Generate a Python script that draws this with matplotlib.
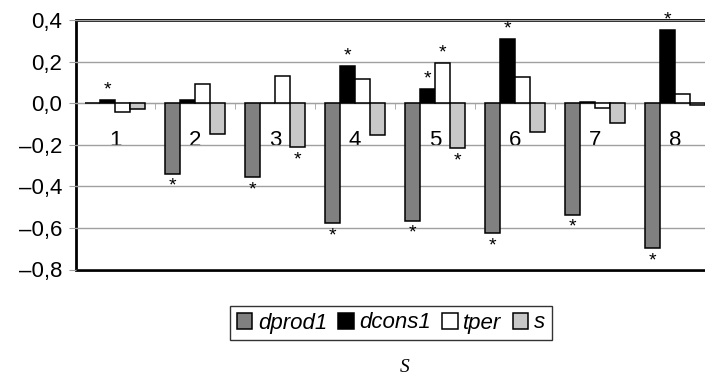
import matplotlib

matplotlib.use("Agg")
import matplotlib.pyplot as plt
import numpy as np
from matplotlib.ticker import FuncFormatter

categories = ["1", "2", "3", "4", "5", "6", "7", "8"]
series_names = ["dprod1", "dcons1", "tper", "s"]
dprod1 = [0.0, -0.34, -0.356, -0.578, -0.565, -0.626, -0.538, -0.698]
dcons1 = [0.015, 0.015, 0.0, 0.18, 0.07, 0.309, 0.007, 0.352]
tper = [-0.044, 0.092, 0.131, 0.116, 0.195, 0.127, -0.025, 0.043]
s = [-0.028, -0.148, -0.212, -0.153, -0.217, -0.137, -0.097, -0.01]
# significance flags (*) per series and group
sig_dprod1 = [0, 1, 1, 1, 1, 1, 1, 1]
sig_dcons1 = [1, 0, 0, 1, 1, 1, 0, 1]
sig_tper = [0, 0, 0, 0, 1, 0, 0, 0]
sig_s = [0, 0, 1, 0, 1, 0, 0, 0]

colors = ["#808080", "#000000", "#ffffff", "#c8c8c8"]

plt.rcParams["font.family"] = ["Liberation Sans", "DejaVu Sans"]

fig = plt.figure(figsize=(7.05, 3.76), dpi=100)
ax = fig.add_axes([76 / 705, 1 - 269.5 / 376, 639 / 705, 249.5 / 376])

x = np.arange(len(categories))
w = 0.1875
values = [dprod1, dcons1, tper, s]
sigs = [sig_dprod1, sig_dcons1, sig_tper, sig_s]
for k, (name, vals, sig, col) in enumerate(zip(series_names, values, sigs, colors)):
  pos = x + (k - 1.5) * w
  ax.bar(pos, vals, width=w, color=col, edgecolor="black", linewidth=1.1,
         label=name, zorder=3)
  for px, v, flag in zip(pos, vals, sig):
    if not flag:
      continue
    if v >= 0:
      ax.annotate("*", xy=(px, v), xytext=(0, 1), textcoords="offset points",
                  ha="center", va="bottom", fontsize=14, zorder=4)
    else:
      ax.annotate("*", xy=(px, v), xytext=(0, -15), textcoords="offset points",
                  ha="center", va="bottom", fontsize=14, zorder=4)

ax.set_xlim(-0.49, 7.5)
ax.set_ylim(-0.8, 0.4)
ax.set_yticks(np.arange(-0.8, 0.41, 0.2))
ax.yaxis.set_major_formatter(
    FuncFormatter(lambda v, _: f"{v:.1f}".replace(".", ",").replace("-", "\u2013")
                  if abs(v) > 1e-9 else "0,0"))
ax.grid(axis="y", color="#a0a0a0", linewidth=1.0, zorder=0)
ax.tick_params(axis="y", labelsize=16, length=5, color="#a0a0a0", pad=5)

ax.set_xticks(x)
ax.set_xticklabels(categories)
ax.set_xticks(x[:-1] + 0.5, minor=True)
ax.tick_params(axis="x", which="major", length=0, pad=19, labelsize=16)
ax.tick_params(axis="x", which="minor", length=4, color="#a0a0a0", direction="out")

for side in ["left", "top", "right"]:
  ax.spines[side].set_visible(False)
ax.spines["bottom"].set_position(("data", 0))
ax.spines["bottom"].set_color("#a0a0a0")
ax.spines["bottom"].set_zorder(2)
ax.patch.set_edgecolor("black")
ax.patch.set_linewidth(2.0)

leg = fig.legend(loc="center", bbox_to_anchor=(391 / 705, 1 - 323 / 376),
                 ncol=4, frameon=True, fancybox=False, edgecolor="black",
                 prop={"style": "italic", "size": 16}, handlelength=0.7,
                 handleheight=0.7, handletextpad=0.25, columnspacing=0.5,
                 borderpad=0.3, borderaxespad=0)
leg.get_frame().set_linewidth(1.0)

fig.text(405 / 705, 1 - 367 / 376, "S", ha="center", va="center",
         family=["Liberation Serif"], style="italic", fontsize=14)

fig.savefig("out.png")
